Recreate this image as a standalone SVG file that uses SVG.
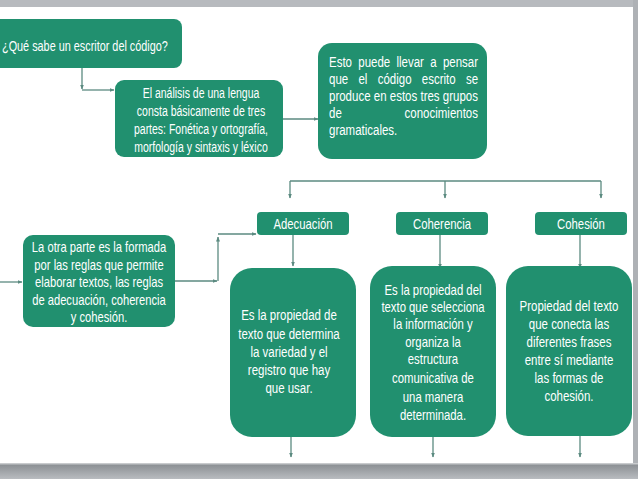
<svg xmlns="http://www.w3.org/2000/svg" width="638" height="479" viewBox="0 0 638 479">
<defs>
<linearGradient id="gb" x1="0" y1="0" x2="0" y2="1">
<stop offset="0" stop-color="#d8dadc"/>
<stop offset="0.15" stop-color="#8e9296"/>
<stop offset="1" stop-color="#b9bcc0"/>
</linearGradient>
<marker id="ah" viewBox="0 0 10 10" refX="9" refY="5" markerWidth="5" markerHeight="5" orient="auto" markerUnits="userSpaceOnUse">
<path d="M0,1 L10,5 L0,9 z" fill="#5b8a80"/>
</marker>
<style>
.box{fill:#21906f}
.t{font-family:"Liberation Sans",Arial,sans-serif;font-size:14px;fill:#ffffff}
.c{text-anchor:middle}
.e{text-anchor:end}
.ln{fill:none;stroke:#5b8a80;stroke-width:1.3}
</style>
</defs>
<rect x="0" y="0" width="638" height="479" fill="#ffffff"/>
<rect x="0" y="0" width="638" height="7" fill="#b7babe"/>
<rect x="633" y="0" width="5" height="479" fill="#aeb1b5"/>
<rect x="0" y="463" width="638" height="16" fill="url(#gb)"/>

<g id="connectors">
<path class="ln" d="M82,68 V89" marker-end="url(#ah)"/>
<path class="ln" d="M82,90 H114" marker-end="url(#ah)"/>
<path class="ln" d="M283,119 H318" marker-end="url(#ah)"/>
<path class="ln" d="M290,181 H601"/>
<path class="ln" d="M290,181 V198" marker-end="url(#ah)"/>
<path class="ln" d="M445,181 V198" marker-end="url(#ah)"/>
<path class="ln" d="M601,181 V198" marker-end="url(#ah)"/>
<path class="ln" d="M0,282 H22" marker-end="url(#ah)"/>
<path class="ln" d="M175,281 H217" marker-end="url(#ah)"/>
<path class="ln" d="M218,281 V237" marker-end="url(#ah)"/>
<path class="ln" d="M218,234 H256" marker-end="url(#ah)"/>
<path class="ln" d="M293,235 V266" marker-end="url(#ah)"/>
<path class="ln" d="M440,235 V268" marker-end="url(#ah)"/>
<path class="ln" d="M580,235 V268" marker-end="url(#ah)"/>
<path class="ln" d="M291,437 V457" marker-end="url(#ah)"/>
<path class="ln" d="M433,437 V457" marker-end="url(#ah)"/>
<path class="ln" d="M580,436 V457" marker-end="url(#ah)"/>
</g>

<g id="n1">
<rect class="box" x="-12" y="19" width="194" height="49" rx="8"/>
<g transform="translate(2 0) scale(0.776 1)"><text class="t" x="0" y="51">¿Qué sabe un escritor del código?</text></g>
</g>

<g id="n2">
<rect class="box" x="115" y="80" width="168" height="77" rx="9"/>
<g class="t c" transform="translate(201 0) scale(0.75 1)">
<text x="0" y="98">El análisis de una lengua</text>
<text x="0" y="116">consta básicamente de tres</text>
<text x="0" y="134">partes: Fonética y ortografía,</text>
<text x="0" y="152">morfología y sintaxis y léxico</text>
</g>
</g>

<g id="n3">
<rect class="box" x="318" y="43" width="169" height="116" rx="14"/>
<g class="t" transform="translate(329 0) scale(0.82 1)">
<text x="0" y="67" word-spacing="3.8">Esto puede llevar a pensar</text>
<text x="0" y="84" word-spacing="8.7">que el código escrito se</text>
<text x="0" y="101" textLength="181.7" lengthAdjust="spacing">produce en estos tres grupos</text>
<text x="0" y="118">de</text><text class="e" x="181.7" y="118">conocimientos</text>
<text x="0" y="135">gramaticales.</text>
</g>
</g>

<g id="n4">
<rect class="box" x="23" y="235" width="152" height="92" rx="10"/>
<g class="t c" transform="translate(99 0) scale(0.8 1)">
<text x="0" y="252">La otra parte es la formada</text>
<text x="0" y="270">por las reglas que permite</text>
<text x="0" y="287">elaborar textos, las reglas</text>
<text x="0" y="305">de adecuación, coherencia</text>
<text x="0" y="322">y cohesión.</text>
</g>
</g>

<g id="adecuacion">
<rect class="box" x="257" y="212" width="92" height="23" rx="4"/>
<g class="t c" transform="translate(303 0) scale(0.81 1)"><text x="0" y="229">Adecuación</text></g>
</g>
<g id="coherencia">
<rect class="box" x="396" y="212" width="92" height="23" rx="4"/>
<g class="t c" transform="translate(442 0) scale(0.81 1)"><text x="0" y="229">Coherencia</text></g>
</g>
<g id="cohesion">
<rect class="box" x="535" y="212" width="92" height="23" rx="4"/>
<g class="t c" transform="translate(581 0) scale(0.81 1)"><text x="0" y="229">Cohesión</text></g>
</g>

<g id="d1">
<rect class="box" x="230" y="268" width="126" height="169" rx="22"/>
<g class="t c" transform="translate(289 0) scale(0.82 1)">
<text x="0" y="320">Es la propiedad de</text>
<text x="0" y="339">texto que determina</text>
<text x="0" y="357">la variedad y el</text>
<text x="0" y="375">registro que hay</text>
<text x="0" y="393">que usar.</text>
</g>
</g>

<g id="d2">
<rect class="box" x="370" y="266" width="126" height="171" rx="22"/>
<g class="t c" transform="translate(433 0) scale(0.81 1)">
<text x="0" y="295">Es la propiedad del</text>
<text x="0" y="312">texto que selecciona</text>
<text x="0" y="329">la información y</text>
<text x="0" y="347">organiza la</text>
<text x="0" y="364">estructura</text>
<text x="0" y="383">comunicativa  de</text>
<text x="0" y="402">una manera</text>
<text x="0" y="420">determinada.</text>
</g>
</g>

<g id="d3">
<rect class="box" x="506" y="266" width="126" height="170" rx="22"/>
<g class="t c" transform="translate(569 0) scale(0.82 1)">
<text x="0" y="311">Propiedad del texto</text>
<text x="0" y="329">que conecta las</text>
<text x="0" y="347">diferentes frases</text>
<text x="0" y="365">entre sí mediante</text>
<text x="0" y="383">las formas de</text>
<text x="0" y="401">cohesión.</text>
</g>
</g>
</svg>
